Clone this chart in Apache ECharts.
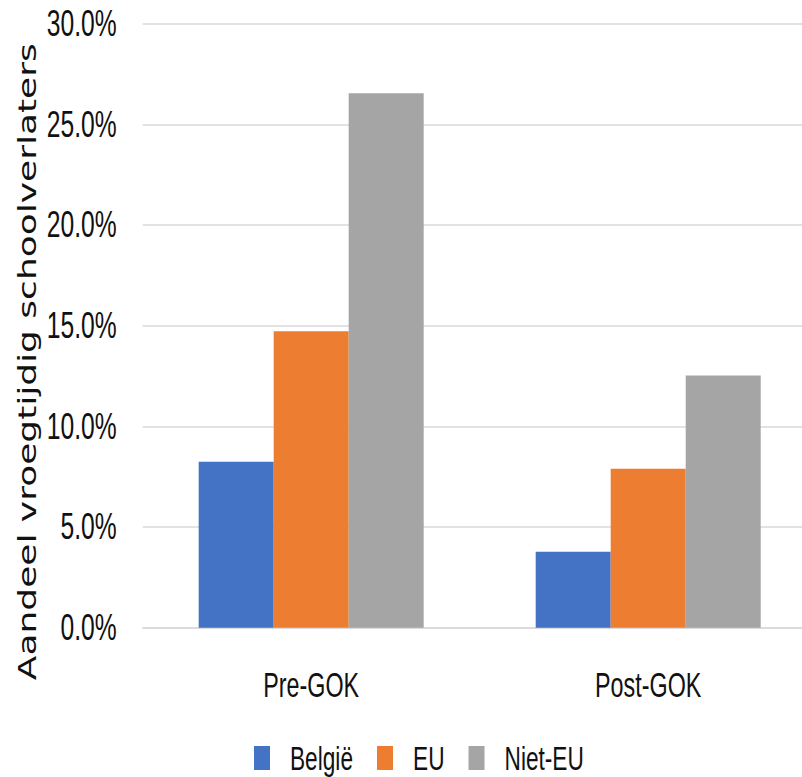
<!DOCTYPE html>
<html>
<head>
<meta charset="utf-8">
<script src="https://cdn.jsdelivr.net/npm/echarts@6/dist/echarts.min.js"></script>
<style>
html, body { margin: 0; padding: 0; overflow: hidden; background: #fff; }
#wrap { width: 802px; height: 777px; overflow: hidden; }
#chart { width: 1260px; height: 777px; transform: scaleX(0.6667); transform-origin: 0 0; }
</style>
</head>
<body>
<div id="wrap"><div id="chart"></div></div>
<script>
const categories = ['Pre-GOK', 'Post-GOK'];
const seriesNames = ['België', 'EU', 'Niet-EU'];
const belgie = [8.24, 3.77];
const eu = [14.73, 7.89];
const nietEu = [26.55, 12.53];
const yTicks = { min: 0, max: 30, interval: 5 };
const colors = ['#4472C4', '#ED7D31', '#A5A5A5'];

const chart = echarts.init(document.getElementById('chart'), null, { renderer: 'svg' });
const values = [belgie, eu, nietEu];
chart.setOption({
  animation: false,
  color: colors,
  textStyle: { fontFamily: 'Liberation Sans, Arial, sans-serif' },
  grid: { left: 214, top: 23.7, width: 1011, height: 604, containLabel: false },
  legend: {
    data: seriesNames,
    left: 376,
    top: 736,
    icon: 'rect',
    itemWidth: 24,
    itemHeight: 24,
    itemGap: 36,
    textStyle: { fontSize: 34, color: '#111', padding: [0, 0, 0, 25], fontFamily: 'Liberation Sans, Arial, sans-serif' }
  },
  xAxis: {
    type: 'category',
    data: categories,
    axisLine: { show: true, lineStyle: { color: '#D9D9D9', width: 1.5 } },
    axisTick: { show: false },
    axisLabel: { fontSize: 35, color: '#111', margin: 39, fontFamily: 'Liberation Sans, Arial, sans-serif' }
  },
  yAxis: {
    type: 'value',
    min: yTicks.min,
    max: yTicks.max,
    interval: yTicks.interval,
    name: 'Aandeel vroegtijdig schoolverlaters',
    nameLocation: 'middle',
    nameRotate: 90,
    nameGap: 150,
    nameTextStyle: { fontSize: 36, color: '#111', fontFamily: 'DejaVu Sans, sans-serif', padding: [0, 72, 0, 0] },
    axisLine: { show: false },
    axisTick: { show: false },
    splitLine: { lineStyle: { color: '#D9D9D9', width: 1.5 } },
    axisLabel: {
      fontSize: 37, color: '#111', margin: 39,
      fontFamily: 'Liberation Sans, Arial, sans-serif',
      formatter: v => v.toFixed(1) + '%'
    }
  },
  series: seriesNames.map((n, i) => ({
    name: n,
    type: 'bar',
    data: values[i],
    barWidth: 112.5,
    barGap: '0%',
    itemStyle: { color: colors[i] }
  }))
});
</script>
</body>
</html>
